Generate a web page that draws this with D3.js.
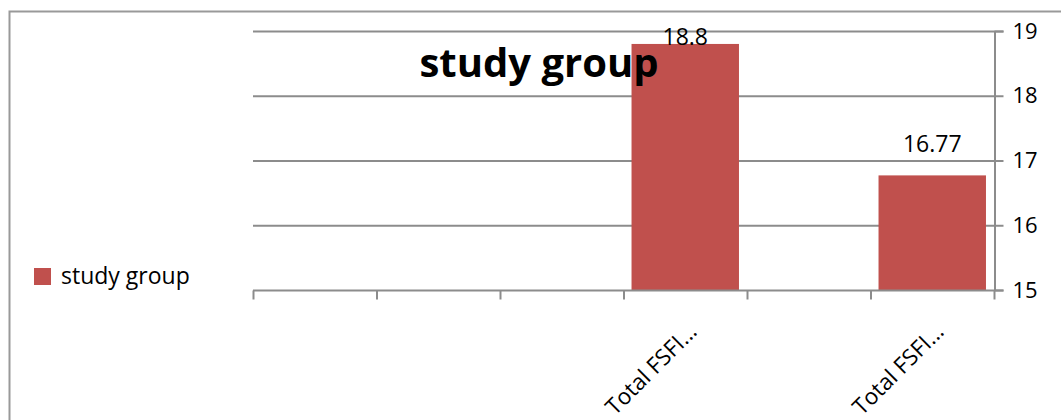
<!DOCTYPE html>
<html lang="en">
<head>
  <meta charset="UTF-8">
  <title>study group</title>
  <script src="https://d3js.org/d3.v7.min.js"></script>
  <style>
    body, html {
      margin: 0;
      padding: 0;
      background-color: #fff;
      overflow: hidden;
    }
    svg text {
      font-family: 'Open Sans', sans-serif;
      fill: #000;
    }
  </style>
</head>
<body>
  <svg id="chart"></svg>
  <script>
    // chart data
    const categories = ["c1", "c2", "c3", "c4", "c5", "c6"];
    const categoryLabels = ["", "", "", "Total FSFI...", "", "Total FSFI..."];
    const values = [null, null, null, 18.8, null, 16.77];
    const valueLabels = ["", "", "", "18.8", "", "16.77"];
    const yTicks = [15, 16, 17, 18, 19];
    const seriesName = "study group";

    const width = 1061, height = 420;
    const svg = d3.select("#chart").attr("width", width).attr("height", height);

    // outer frame (top and left visible)
    svg.append("path")
      .attr("d", `M9.5,${height} L9.5,11.5 L${width},11.5`)
      .attr("fill", "none")
      .attr("stroke", "#999")
      .attr("stroke-width", 2);

    const plot = { left: 253, right: 994, top: 31, bottom: 290 };

    const x = d3.scaleBand()
      .domain(categories)
      .range([plot.left, plot.right])
      .paddingInner(0.13)
      .paddingOuter(0.065);

    const xStep = d3.scaleBand().domain(categories).range([plot.left, plot.right]);

    const y = d3.scaleLinear().domain([15, 19]).range([plot.bottom, plot.top]);

    // gridlines
    svg.append("g")
      .selectAll("line")
      .data(yTicks.slice(1))
      .enter().append("line")
      .attr("x1", plot.left)
      .attr("x2", plot.right)
      .attr("y1", d => y(d) + 0.5)
      .attr("y2", d => y(d) + 0.5)
      .attr("stroke", "#8c8c8c")
      .attr("stroke-width", 2);

    // bars
    const data = categories.map((c, i) => ({ c, v: values[i], label: valueLabels[i] }))
      .filter(d => d.v !== null);

    svg.append("g")
      .selectAll("rect")
      .data(data)
      .enter().append("rect")
      .attr("x", d => x(d.c))
      .attr("width", x.bandwidth())
      .attr("y", d => y(d.v))
      .attr("height", d => y(15) - y(d.v))
      .attr("fill", "#c0504d");

    // value labels (kept inside the plot area at the top)
    svg.append("g")
      .selectAll("text")
      .data(data)
      .enter().append("text")
      .attr("x", d => x(d.c) + x.bandwidth() / 2)
      .attr("y", d => Math.max(y(d.v) - 23, plot.top + 14))
      .attr("text-anchor", "middle")
      .style("font-size", "23px")
      .text(d => d.label);

    // x axis
    const xAxis = svg.append("g")
      .attr("transform", `translate(0,${plot.bottom + 0.5})`);
    xAxis.append("line")
      .attr("x1", plot.left).attr("x2", plot.right)
      .attr("stroke", "#8c8c8c").attr("stroke-width", 2);
    const xTickPos = categories.map(c => xStep(c)).concat([plot.right]);
    xAxis.selectAll(".tick")
      .data(xTickPos)
      .enter().append("line")
      .attr("x1", d => d + 0.5).attr("x2", d => d + 0.5)
      .attr("y1", 0).attr("y2", 9)
      .attr("stroke", "#8c8c8c").attr("stroke-width", 2);

    // category labels, rotated
    svg.append("g")
      .selectAll("text")
      .data(categories.map((c, i) => ({ c, label: categoryLabels[i] })).filter(d => d.label))
      .enter().append("text")
      .attr("transform", d => `translate(${xStep(d.c) + xStep.bandwidth() / 2 + 13},${plot.bottom + 43}) rotate(-45)`)
      .attr("text-anchor", "end")
      .style("font-size", "22.5px")
      .text(d => d.label);

    // y axis on the right
    const yAxis = d3.axisRight(y)
      .tickValues(yTicks)
      .tickFormat(d3.format("d"))
      .tickSize(9)
      .tickPadding(9);
    const yG = svg.append("g")
      .attr("transform", `translate(${plot.right + 0.5},0)`)
      .call(yAxis);
    yG.select(".domain").attr("stroke", "#8c8c8c").attr("stroke-width", 2);
    yG.selectAll(".tick line").attr("stroke", "#8c8c8c").attr("stroke-width", 2);
    yG.selectAll(".tick text")
      .style("font-size", "22px")
      .style("font-family", "'Open Sans', sans-serif")
      .attr("fill", "#000");

    // title
    svg.append("text")
      .attr("x", 539)
      .attr("y", 77)
      .attr("text-anchor", "middle")
      .style("font-size", "40px")
      .style("font-weight", "bold")
      .text(seriesName);

    // legend
    const legend = svg.append("g").attr("transform", "translate(34,268)");
    legend.append("rect")
      .attr("width", 17).attr("height", 17)
      .attr("fill", "#c0504d");
    legend.append("text")
      .attr("x", 27).attr("y", 16)
      .style("font-size", "23px")
      .text(seriesName);
  </script>
</body>
</html>
